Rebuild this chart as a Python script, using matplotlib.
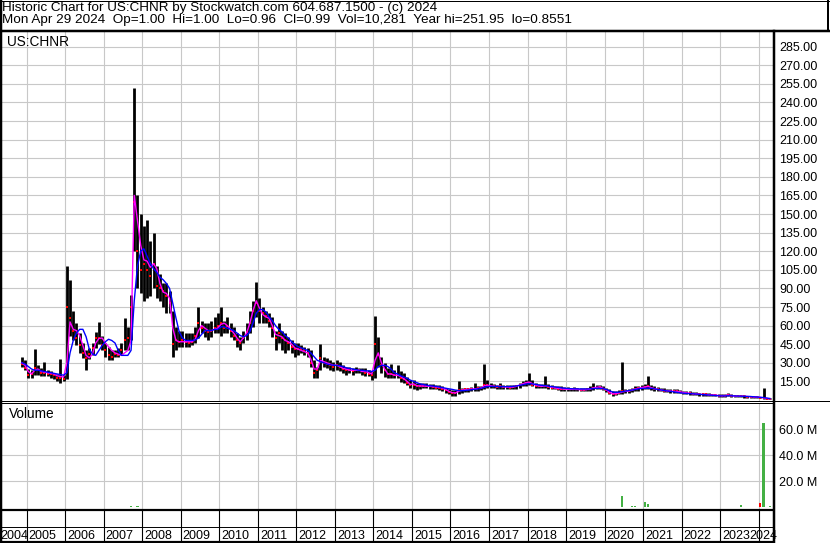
import matplotlib
matplotlib.use('Agg')
import matplotlib.pyplot as plt
import numpy as np
import pandas as pd

plt.rcParams['font.family'] = 'Liberation Sans'

# monthly bars, Nov 2004 .. Apr 2024
price_high = [
    35, 32,
    25, 24, 41, 28, 26, 31, 24, 23, 22, 21, 33, 20,
    108, 97, 72, 62, 54, 46, 40, 42, 46, 55, 63, 52,
    46, 43, 40, 40, 42, 46, 66, 59, 85, 252, 165, 150,
    140, 145, 128, 135, 108, 102, 94, 94, 88, 72, 59, 56,
    56, 54, 54, 54, 59, 75, 64, 62, 62, 64, 67, 70,
    75, 64, 67, 62, 59, 54, 51, 56, 62, 72, 80, 95,
    82, 75, 72, 70, 67, 56, 62, 56, 54, 51, 48, 46,
    46, 44, 43, 42, 40, 32, 27, 45, 35, 34, 32, 31,
    32, 31, 28, 27, 27, 26, 27, 26, 25.5, 25.5, 24, 23,
    68, 51, 35, 29.6, 25.5, 29, 24, 28, 23, 21.5, 18.8, 16,
    16, 14, 14, 14, 13.5, 13, 13, 12, 12, 11.5, 10, 9,
    8, 8, 15, 10, 10, 10, 10.5, 13.5, 11, 11, 29, 16,
    14, 13, 12.5, 14, 12, 12, 12, 12, 12.5, 14, 15, 16,
    22, 16, 14, 13, 13, 19, 13, 12, 11.5, 11, 11, 10.5,
    10.5, 10, 10.5, 10, 10, 10, 10, 11, 14, 12, 12, 11,
    10, 9, 7, 7, 8, 31, 9, 9, 10, 11, 11.5, 12,
    13, 19, 12, 11, 10.5, 10, 9.5, 9, 9, 9, 8.5, 8,
    7.5, 7, 7, 6.5, 6.5, 6, 6, 5.5, 5.5, 5, 5, 4.5,
    4.5, 5, 5.5, 4.5, 4, 4, 4, 4, 3.5, 3.5, 3.5, 3,
    2.8, 9.5, 2, 1.5,
]
price_low = [
    27, 24,
    18, 18, 20, 20, 19, 19, 19, 18, 17, 15, 14, 15,
    17, 52, 48, 44, 38, 34, 24, 33, 36, 42, 45, 40,
    35, 32, 32, 35, 35, 36, 40, 40, 48, 120, 90, 86,
    80, 82, 84, 90, 82, 80, 75, 70, 70, 35, 40, 43,
    43, 43, 43, 44, 46, 50, 54, 51, 48, 51, 54, 54,
    52, 54, 54, 51, 48, 43, 40, 46, 48, 54, 59, 67,
    62, 62, 62, 59, 51, 40, 46, 40, 38, 40, 38, 35,
    36, 38, 36, 35, 27, 17.5, 17.5, 24, 27, 26, 24, 23,
    24, 23, 21.5, 20, 21.5, 20, 21.5, 21.5, 20, 19.4, 19, 16,
    18, 27, 21.5, 18.8, 17.5, 18, 17.5, 18, 14.8, 13.4, 12, 9.4,
    9, 8, 9, 9.5, 9.5, 9, 9, 8.5, 8, 7.5, 6, 5,
    3, 3.5, 5, 6, 6.5, 6.5, 7, 7, 7.5, 8, 9, 9.5,
    9.5, 9.5, 9, 9, 9, 9, 8.5, 9, 9, 10, 11, 11,
    12, 11, 10, 10, 9.5, 9.5, 9, 9, 8.5, 8, 7.5, 7,
    7.5, 7.5, 7.5, 7, 7, 7, 7, 7.5, 8, 8.5, 8.5, 8,
    6.5, 4.5, 3, 4, 4.5, 5, 5.5, 6, 6.5, 7, 7.5, 8,
    8.5, 9, 8, 7.5, 7, 7, 6.5, 6.5, 6, 6, 6, 5.5,
    5, 4.5, 4, 4, 4, 3.5, 3.5, 3.5, 3, 3, 3, 2.5,
    2.5, 2.5, 3, 2.5, 2.5, 2.5, 2.5, 2, 2, 2, 1.8, 1.5,
    1.5, 1.2, 1, 0.86,
]
price_close = [
    29, 26,
    20, 21, 26, 24, 22, 22, 21, 21, 20, 18, 18, 17,
    75, 66, 56, 50, 44, 38, 34, 37, 42, 50, 50, 44,
    40, 36, 35, 37, 36, 40, 48, 50, 75, 160, 120, 105,
    110, 105, 100, 110, 92, 90, 88, 84, 78, 45, 48, 47,
    48, 47, 46, 47, 52, 62, 58, 56, 55, 56, 58, 60,
    62, 58, 60, 56, 52, 48, 46, 50, 55, 62, 72, 78,
    72, 70, 68, 64, 58, 50, 54, 50, 48, 46, 43, 41,
    41, 41, 40, 38, 30, 22, 24, 34, 30, 29, 28, 27,
    28, 27, 25, 24, 24, 23, 24, 24, 23, 22, 21, 20,
    45, 36, 28, 24, 21, 21, 20, 20, 18, 17, 14, 12,
    12, 11, 11, 11.5, 11, 11, 10.5, 10, 10, 9, 8, 6.5,
    5.5, 6, 8, 8, 8.5, 8.5, 9, 9, 9.5, 9.5, 12, 12,
    11.5, 11, 10.5, 11, 10.5, 10.5, 10, 10.5, 11, 12, 13, 14,
    14, 12.5, 11.5, 11, 11, 11, 10.5, 10, 9.5, 9, 9, 8.5,
    8.5, 8.5, 8.5, 8.5, 8, 8, 8.5, 9, 10, 10, 10.5, 9,
    8, 6, 4.5, 5, 6, 7, 7, 7, 8, 9, 9.5, 10,
    10.5, 11, 9.5, 9, 8.5, 8, 7.5, 7.5, 7, 7, 7, 6.5,
    6, 5.5, 5.5, 5, 5, 4.5, 4.5, 4.5, 4, 4, 4, 3.5,
    3.5, 3.5, 4, 3.5, 3, 3, 3, 3, 2.8, 2.6, 2.5, 2.3,
    2, 1.5, 1.2, 0.99,
]
# short (magenta) and long (blue) averages as drawn on the chart
ma_short = [
    30, 28,
    23, 21, 24, 25, 23, 22.5, 22, 21.5, 21, 19.5, 19, 18.5,
    30, 63, 57, 56, 52, 44, 36, 34, 37, 46, 49.6, 50,
    46, 43, 40, 38, 37, 36, 38, 40, 48, 165, 145, 125,
    113, 112, 107, 110, 106, 94, 87, 86, 82, 58, 48, 47,
    47, 47, 47, 47, 49, 56, 60, 58, 56, 56, 57, 58,
    61, 62, 60, 57, 54, 50, 47, 50, 54, 62, 72, 80,
    74, 69, 67, 66, 60, 53, 52, 51, 48, 47, 45, 42,
    41, 40, 39, 38, 33, 25, 25, 32, 31, 30, 29, 28,
    28, 27, 25.5, 25, 24, 24, 24, 24, 23, 23, 22, 21,
    32, 38, 30, 25, 21, 21, 20, 20, 19, 17, 15, 12.5,
    13, 11.5, 11.3, 11.3, 11.2, 11, 10.8, 10.5, 10.2, 9.5, 8.5, 7,
    6, 5.6, 7, 8, 8.3, 8.5, 8.8, 9, 9.3, 9.5, 11.5, 12,
    11.5, 11, 10.8, 11, 10.7, 10.5, 10.3, 10.5, 11, 12, 13, 14,
    14.5, 13.2, 12, 11.3, 11, 11.5, 10.8, 10.3, 9.8, 9.3, 9, 8.7,
    8.6, 8.6, 8.6, 8.5, 8.3, 8.2, 8.4, 8.9, 9.8, 10.2, 10.6, 9.5,
    8.2, 6.3, 5, 5, 5.8, 6.5, 7, 7.2, 8, 8.8, 9.5, 10,
    10.5, 11, 10, 9.2, 8.6, 8.1, 7.7, 7.5, 7.2, 7, 7, 6.6,
    6.1, 5.7, 5.5, 5.1, 5, 4.6, 4.5, 4.5, 4.1, 4, 4, 3.6,
    3.5, 3.6, 4, 3.6, 3.1, 3, 3, 3, 2.8, 2.7, 2.5, 2.3,
    2.1, 1.8, 1.3, 1.0,
]
ma_long = [
    30, 29,
    27, 25, 24, 24, 23.5, 23, 22.5, 22, 21.5, 21, 20.5, 20,
    22, 38, 48, 54, 57, 57, 51, 41, 37, 36, 40, 44,
    47, 49, 48, 46, 40, 36, 36, 36, 40, 80, 108, 120,
    122, 116, 110, 106, 103, 99, 97, 94, 90, 78, 66, 55,
    50, 48, 48, 48, 48.5, 50, 53, 56, 56, 56, 57, 57,
    59, 59, 58, 57, 56, 54, 52, 51, 52, 55, 62, 70,
    73, 73, 71, 67, 64, 60, 57, 55, 52, 50, 47, 45,
    43, 42, 41, 40, 38, 35, 32, 31, 30, 29, 28.5, 28,
    28, 27.5, 27, 26, 25.5, 25, 24.5, 24, 24, 23.5, 23.5, 23,
    24, 27, 28, 28, 27, 25, 22, 21, 19.5, 18.5, 17.5, 16,
    15, 14, 13, 12.5, 12, 11.5, 11.3, 11, 10.5, 10, 9.5, 9,
    8.6, 8, 7.7, 7.5, 7.7, 8, 8.3, 8.6, 9, 9.5, 10.2, 10.8,
    11, 11, 11, 10.8, 10.8, 10.8, 10.8, 11, 11.3, 11.8, 12.3, 12.9,
    13.2, 13, 12.6, 12.1, 11.8, 11.5, 11.2, 10.8, 10.5, 10.2, 9.8, 9.5,
    9.3, 9.1, 9, 9, 8.9, 8.9, 8.9, 9, 9.2, 9.4, 9.4, 9.2,
    8.5, 7.5, 6.5, 6.2, 6.3, 6.8, 7.2, 7.6, 8, 8.5, 9, 9.3,
    9.4, 9.5, 9.4, 9, 8.6, 8.2, 7.6, 7.3, 7, 6.6, 6.2, 5.8,
    5.5, 5.3, 5.1, 5, 4.8, 4.6, 4.4, 4.2, 4, 3.8, 3.6, 3.4,
    3.3, 3.3, 3.4, 3.4, 3.3, 3.2, 3.1, 3, 2.9, 2.8, 2.6, 2.4,
    2.2, 2, 1.6, 1.2,
]

vol_months = ['2007-09', '2007-11', '2020-06', '2020-09', '2020-10',
              '2021-01', '2021-02', '2023-07', '2024-01', '2024-02', '2024-04']
vol_values = [0.5e6, 0.5e6, 8.5e6, 0.5e6, 0.6e6, 4e6, 2e6, 1.5e6, 3e6, 65e6, 1e6]
vol_up = [True, True, True, True, True, True, True, True, False, True, True]

price_ticks = list(range(15, 286, 15))
vol_ticks = [20e6, 40e6, 60e6]
years = list(range(2005, 2025))

header1 = 'Historic Chart for US:CHNR by Stockwatch.com 604.687.1500 - (c) 2024'
header2 = ('Mon Apr 29 2024  Op=1.00  Hi=1.00  Lo=0.96  Cl=0.99  Vol=10,281  '
           'Year hi=251.95  lo=0.8551')


def dec_year(ts):
    return ts.year + (ts.month - 1) / 12 + 1 / 24


months = pd.date_range('2004-11-01', periods=len(price_close), freq='MS')
xm = np.array([dec_year(m) for m in months])
xv = np.array([dec_year(pd.Timestamp(m + '-01')) for m in vol_months])

W, H = 830, 543
fig = plt.figure(figsize=(W / 100, H / 100), dpi=100)


def box(l, t, r, b):
    return [l / W, 1 - b / H, (r - l) / W, (b - t) / H]


GRID = '#c8c8c8'
XL = (2004.359, 2024.371)
PX = 38.53  # pixels per year
ax = fig.add_axes(box(2, 31, 773, 401))
axv = fig.add_axes(box(2, 402.5, 773, 509.5), sharex=ax)
axd = fig.add_axes(box(2, 509.5, 773, 542), sharex=ax)

ax.set_xlim(*XL)
ax.set_ylim(-0.8, 297.6)
axv.set_ylim(-1.9e6, 80.4e6)
axd.set_ylim(0, 1)

for a in (ax, axv, axd):
    for s in a.spines.values():
        s.set_visible(False)
    a.tick_params(axis='x', length=0, labelbottom=False)
    a.set_xticks(years)

for a in (ax, axv):
    a.set_axisbelow(True)
    a.grid(True, color=GRID, lw=0.8)
    a.yaxis.tick_right()
    a.tick_params(axis='y', length=0, pad=4.5, labelsize=9)

ax.set_yticks(price_ticks)
ax.set_yticklabels([f'{v:.2f}' for v in price_ticks])
axv.set_yticks(vol_ticks)
axv.set_yticklabels([f'{v / 1e6:.1f} M' for v in vol_ticks])
axd.set_yticks([])
axd.grid(False)

# price bars, closes and averages
ax.vlines(xm, price_low, price_high, color='black', lw=2.0)
ax.plot(xm, price_close, 's', color='red', ms=1.8, mew=0)
ax.plot(xm, ma_short, color='#ff00ff', lw=1.0)
ax.plot(xm, ma_long, color='#0000ff', lw=1.0)

# volume
vcol = ['#44b044' if u else 'red' for u in vol_up]
axv.bar(xv, vol_values, width=0.06, color=vcol, linewidth=0)

# date band
for y in years:
    axd.axvline(y, color='black', lw=0.8)
axd.axhline(0.46, color='black', lw=0.7)
tr = axd.get_xaxis_transform()
axd.text(XL[0] - 1.5 / PX, 0.083, '2004', transform=tr, ha='left', va='baseline', fontsize=9)
for y in years[:-1]:
    axd.text(y + 2 / PX, 0.083, str(y), transform=tr, ha='left', va='baseline', fontsize=9)
axd.text(XL[1] + 4 / PX, 0.083, str(years[-1]), transform=tr, ha='right', va='baseline', fontsize=9)

# frame, header and borders
frame = fig.add_axes([0, 0, 1, 1])
frame.set_xlim(0, W)
frame.set_ylim(H, 0)
frame.axis('off')
frame.set_zorder(10)
frame.patch.set_visible(False)

frame.text(2, 11, header1, ha='left', va='baseline', fontsize=9.7)
frame.text(2, 23.5, header2, ha='left', va='baseline', fontsize=9.7)
frame.text(7, 46.5, 'US:CHNR', ha='left', va='baseline', fontsize=9.8)
frame.text(9, 418, 'Volume', ha='left', va='baseline', fontsize=9.8)

k = 0.72
frame.plot([1, 1], [0, H], color='black', lw=2.5 * k)
frame.plot([0, W], [30.8, 30.8], color='black', lw=2.5 * k)
frame.plot([0, W], [0.5, 0.5], color='black', lw=1 * k)
frame.plot([828, 828], [0, 31], color='black', lw=2 * k)
frame.plot([773.7, 773.7], [31, H], color='black', lw=2.5 * k)
frame.plot([2, W], [400.5, 400.5], color='black', lw=1 * k)
frame.plot([2, 773], [402.8, 402.8], color='black', lw=1 * k)
frame.plot([0, 773], [509.8, 509.8], color='black', lw=2.2 * k)
frame.plot([0, 773], [541.8, 541.8], color='black', lw=2.2 * k)

fig.savefig('out.png', dpi=100)
